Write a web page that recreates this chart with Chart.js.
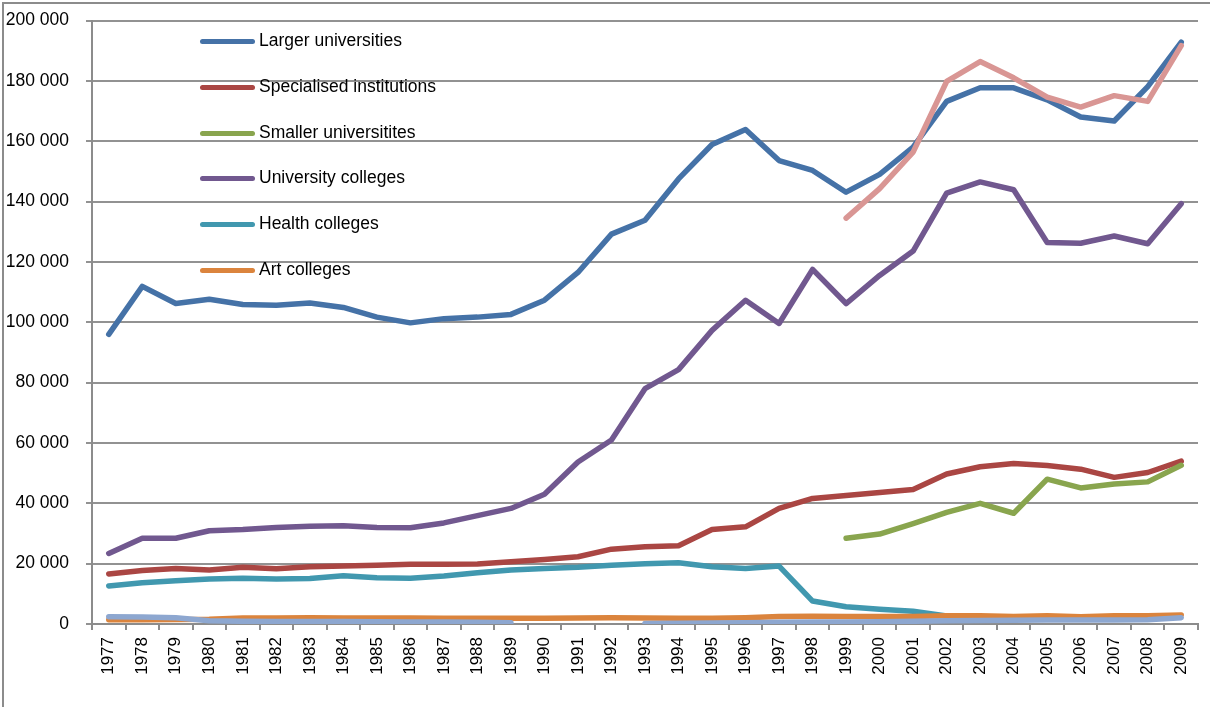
<!DOCTYPE html>
<html>
<head>
<meta charset="utf-8">
<script src="https://cdn.jsdelivr.net/npm/chart.js@4/dist/chart.umd.min.js"></script>
<style>
  html, body { margin: 0; padding: 0; background: #fff; }
  #wrap { position: relative; width: 1210px; height: 707px; overflow: hidden; }
  #myChart { position: absolute; left: 0; top: -7px; }
  #frame { position: absolute; left: 2px; top: 2px; width: 1300px; height: 800px;
           border-top: 2px solid #8c8c8c; border-left: 2px solid #8c8c8c; }
  #legend { position: absolute; left: 200px; top: 18px; margin: 0; padding: 0; list-style: none;
            font-family: "Liberation Sans", Arial, sans-serif; font-size: 17.5px; color: #000; }
  #legend li { height: 45.8px; display: flex; align-items: flex-start; }
  #legend .swatch { width: 55px; height: 5px; border-radius: 3px; margin-top: 21px; margin-right: 4px; }
  #legend .lbl { line-height: 46px; margin-top: -1px; }
</style>
</head>
<body>
<div id="wrap">
  <canvas id="myChart" width="1210" height="714"></canvas>
  <div id="frame"></div>
  <ul id="legend"></ul>
</div>
<script>
const years = ["1977","1978","1979","1980","1981","1982","1983","1984","1985","1986","1987",
  "1988","1989","1990","1991","1992","1993","1994","1995","1996","1997","1998","1999",
  "2000","2001","2002","2003","2004","2005","2006","2007","2008","2009"];

const largerUniversities = [96000,111900,106200,107600,105900,105600,106400,104900,101700,99800,101200,
  101700,102600,107300,116500,129200,133800,147500,158900,163900,153600,150300,143100,
  149000,158000,173200,177700,177700,173700,168000,166700,178100,192800];

const specialisedInstitutions = [16600,17700,18400,17900,18800,18300,19000,19200,19500,19800,19800,
  19900,20600,21400,22300,24800,25600,25900,31300,32200,38300,41600,42600,
  43600,44600,49700,52100,53200,52500,51300,48600,50200,54000];

const smallerUniversities = [null,null,null,null,null,null,null,null,null,null,null,
  null,null,null,null,null,null,null,null,null,null,null,28400,
  29800,33300,37000,40000,36700,48000,45100,46400,47100,52600];

const universityColleges = [23400,28400,28400,30900,31300,32000,32400,32600,32000,31900,33500,
  35900,38300,43000,53700,61000,78000,84300,97300,107300,99600,117500,106200,
  115500,123600,142800,146500,143900,126400,126200,128600,126000,139300];

const healthColleges = [12600,13700,14300,14900,15200,14900,15100,16000,15300,15200,15900,
  17000,17900,18400,18800,19500,20000,20300,19000,18400,19200,7600,5700,
  4900,4200,2700,null,null,null,null,null,null,null];

const artColleges = [1400,1400,1500,1600,2000,2000,2100,2000,2000,2000,1900,
  1900,1900,1900,2000,2100,2000,1900,1900,2100,2500,2600,2500,
  2500,2500,2700,2700,2500,2700,2400,2700,2700,3000];

// two series without a legend entry
const unnamedLow = [2400,2300,2100,1100,900,850,800,800,750,700,650,
  550,400,null,null,null,200,250,300,400,600,650,700,
  750,900,1100,1200,1250,1300,1300,1300,1400,2100];

const unnamedHigh = [null,null,null,null,null,null,null,null,null,null,null,
  null,null,null,null,null,null,null,null,null,null,null,134500,
  144300,156400,179800,186400,181000,174600,171300,175100,173200,191700];

const series = [
  { label: "Larger universities", data: largerUniversities, color: "#4572A7", legend: true },
  { label: "Specialised institutions", data: specialisedInstitutions, color: "#AA4643", legend: true },
  { label: "Smaller universitites", data: smallerUniversities, color: "#89A54E", legend: true },
  { label: "University colleges", data: universityColleges, color: "#71588F", legend: true },
  { label: "Health colleges", data: healthColleges, color: "#4198AF", legend: true },
  { label: "Art colleges", data: artColleges, color: "#DB843D", legend: true },
  { label: "", data: unnamedLow, color: "#8DA7D0", legend: false },
  { label: "", data: unnamedHigh, color: "#D99694", legend: false },
];

const legendEl = document.getElementById("legend");
series.filter((s) => s.legend).forEach((s) => {
  const li = document.createElement("li");
  li.innerHTML = '<span class="swatch" style="background:' + s.color + '"></span><span class="lbl">' + s.label + "</span>";
  legendEl.appendChild(li);
});

Chart.defaults.font.family = '"Liberation Sans", Arial, sans-serif';
Chart.defaults.color = "#000";

const ctx = document.getElementById("myChart");

new Chart(ctx, {
  type: "line",
  data: {
    labels: years,
    datasets: series.map((s, i) => ({
      label: s.label,
      data: s.data,
      borderColor: s.color,
      backgroundColor: s.color,
      borderWidth: 5.5,
      borderJoinStyle: "round",
      borderCapStyle: "round",
      pointRadius: 0,
      tension: 0,
      spanGaps: false,
      order: series.length - i,
    })),
  },
  options: {
    responsive: false,
    animation: false,
    devicePixelRatio: 1,
    layout: { padding: { left: 2, right: 12, top: 12, bottom: 0 } },
    plugins: { legend: { display: false }, tooltip: { enabled: false } },
    scales: {
      x: {
        offset: true,
        grid: { display: true, drawOnChartArea: false, drawTicks: true, tickLength: 6, color: "#8c8c8c", lineWidth: 2, offset: true },
        border: { color: "#8c8c8c", width: 2 },
        ticks: { autoSkip: false, minRotation: 90, maxRotation: 90, padding: 7, font: { size: 17 } },
        afterFit(scale) { scale.height = 83; },
      },
      y: {
        min: 0,
        max: 200000,
        grid: { color: "#929292", lineWidth: 2, tickLength: 6 },
        border: { color: "#8c8c8c", width: 2 },
        ticks: {
          stepSize: 20000,
          padding: 17,
          font: { size: 17.5 },
          callback: (v) => String(v).replace(/\B(?=(\d{3})+(?!\d))/g, " "),
        },
        afterFit(scale) { scale.width = 90; },
      },
    },
  },
});
</script>
</body>
</html>
